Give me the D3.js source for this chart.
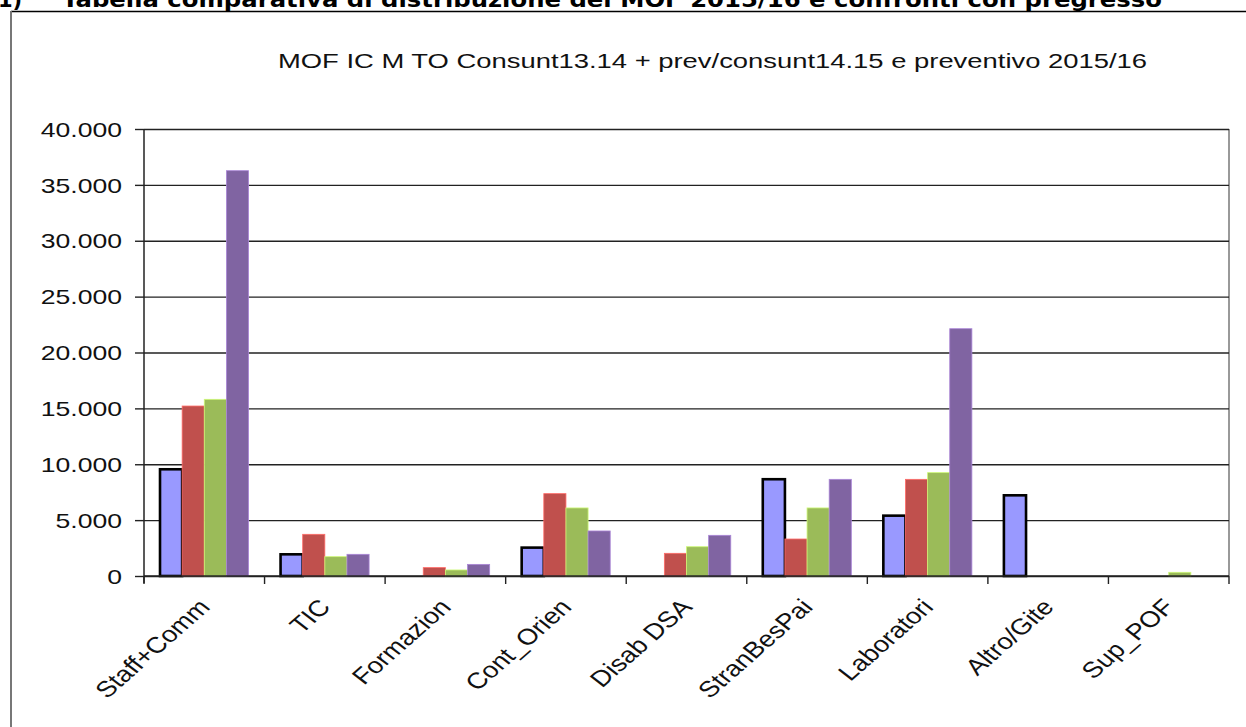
<!DOCTYPE html>
<html>
<head>
<meta charset="utf-8">
<script src="https://cdn.jsdelivr.net/npm/d3@7"></script>
<style>
  body { margin: 0; background: #fff; }
  svg { display: block; font-family: "Liberation Sans", Arial, sans-serif; }
</style>
</head>
<body>
<div id="content"></div>
<script>
// MOF bar chart
var categories = ["Staff+Comm", "TIC", "Formazion", "Cont_Orien", "Disab DSA", "StranBesPai", "Laboratori", "Altro/Gite", "Sup_POF"],
    seriesNames = ["consunt13.14", "prev14.15", "consunt14.15", "prev15.16"],
    consunt1314 = [9550, 1940, 0, 2540, 0, 8660, 5400, 7220, 0],
    prev1415 = [15210, 3730, 750, 7370, 2030, 3310, 8650, 0, 0],
    consunt1415 = [15810, 1730, 540, 6090, 2620, 6090, 9250, 0, 330],
    prev1516 = [36270, 1940, 1040, 4030, 3640, 8650, 22130, 0, 0],
    yTicks = [0, 5000, 10000, 15000, 20000, 25000, 30000, 35000, 40000],
    colors = ["#9999ff", "#c0504d", "#9bbb59", "#8064a2"];

var width = 1246,
    height = 727,
    plotL = 144, plotR = 1229, plotT = 129, plotB = 576,
    sx = 1.33; // the picture is stretched sideways

var series = [consunt1314, prev1415, consunt1415, prev1516];

var itFormat = d3.formatLocale({decimal: ",", thousands: ".", grouping: [3], currency: ["€", ""]}).format(",");

var svg = d3.select('#content').append('svg')
    .attr('width', width)
    .attr('height', height);

// page heading, cut by the top edge
svg.append('text')
    .attr('x', -2).attr('y', 7)
    .attr('font-family', '"DejaVu Sans", sans-serif')
    .attr('font-weight', 'bold')
    .attr('font-size', 21)
    .text('1)');
svg.append('text')
    .attr('x', 62).attr('y', 7)
    .attr('font-family', '"DejaVu Sans", sans-serif')
    .attr('font-weight', 'bold')
    .attr('font-size', 21)
    .attr('textLength', 1100)
    .attr('lengthAdjust', 'spacingAndGlyphs')
    .text('Tabella comparativa di distribuzione del MOF 2015/16 e confronti con pregresso');

// frame
svg.append('line').attr('x1', 11).attr('x2', width).attr('y1', 11.5).attr('y2', 11.5)
    .attr('stroke', '#000').attr('stroke-width', 1.5);
svg.append('line').attr('x1', 11).attr('x2', 11).attr('y1', 11).attr('y2', height)
    .attr('stroke', '#777').attr('stroke-width', 2);

// chart title
svg.append('text')
    .attr('x', 278).attr('y', 67.5)
    .attr('font-size', 20)
    .attr('fill', '#111')
    .attr('textLength', 869)
    .attr('lengthAdjust', 'spacingAndGlyphs')
    .text('MOF IC M TO Consunt13.14 + prev/consunt14.15 e preventivo 2015/16');

var xScale = d3.scaleBand().domain(categories).range([plotL, plotR]).padding(0),
    bw = xScale.bandwidth(),
    x1 = d3.scaleBand().domain(d3.range(4)).range([bw * 16 / 120.5, bw - bw * 16 / 120.5]),
    yScale = d3.scaleLinear().domain([0, 40000]).range([plotB, plotT]);

// plot area right border
svg.append('line').attr('x1', plotR).attr('x2', plotR).attr('y1', plotT).attr('y2', plotB)
    .attr('stroke', '#999').attr('stroke-width', 2);

// gridlines
var grid = svg.append('g')
    .attr('transform', 'translate(' + plotL + ',0)')
    .call(d3.axisRight(yScale).tickValues(yTicks).tickSize(plotR - plotL).tickFormat(''));
grid.select('.domain').remove();
grid.selectAll('line').attr('stroke', '#222').attr('stroke-width', 1.4);

// bars
var catG = svg.selectAll('g.cat')
    .data(categories)
    .enter().append('g')
    .attr('class', 'cat')
    .attr('transform', function(d) { return 'translate(' + xScale(d) + ',0)'; });

catG.selectAll('rect')
    .data(function(d, i) {
        return series.map(function(s, k) { return {k: k, v: s[i]}; })
            .filter(function(e) { return e.v > 0; });
    })
    .enter().append('rect')
    .attr('x', function(d) { return x1(d.k); })
    .attr('width', x1.bandwidth())
    .attr('y', function(d) { return yScale(d.v); })
    .attr('height', function(d) { return yScale(0) - yScale(d.v); })
    .attr('fill', function(d) { return colors[d.k]; })
    .attr('stroke', function(d) { return d.k === 0 ? '#000' : d3.color(colors[d.k]).brighter(0.8); })
    .attr('stroke-width', function(d) { return d.k === 0 ? 2.6 : 0.8; });

// y axis
var yAxisG = svg.append('g')
    .attr('transform', 'translate(' + plotL + ',0)')
    .call(d3.axisLeft(yScale).tickValues(yTicks).tickSize(9).tickPadding(0).tickFormat(itFormat));
yAxisG.select('.domain').attr('d', 'M0,' + plotT + 'V' + (plotB + 7)).attr('stroke', '#222').attr('stroke-width', 1.5);
yAxisG.selectAll('.tick line').attr('stroke', '#222').attr('stroke-width', 1.4);
yAxisG.selectAll('.tick text')
    .attr('x', 0).attr('dy', '0.36em')
    .attr('transform', 'translate(-22,0) scale(' + sx + ',1)')
    .attr('font-size', 20)
    .attr('font-family', '"Liberation Sans", Arial, sans-serif')
    .attr('fill', '#111');

// x axis line and ticks
svg.append('line').attr('x1', plotL).attr('x2', plotR).attr('y1', plotB).attr('y2', plotB)
    .attr('stroke', '#222').attr('stroke-width', 1.5);
svg.selectAll('line.xtick')
    .data(categories.concat(['end']))
    .enter().append('line')
    .attr('class', 'xtick')
    .attr('x1', function(d, i) { return plotL + i * bw; })
    .attr('x2', function(d, i) { return plotL + i * bw; })
    .attr('y1', plotB).attr('y2', plotB + 8)
    .attr('stroke', '#222').attr('stroke-width', 1.4);

// category labels
svg.selectAll('text.cat')
    .data(categories)
    .enter().append('text')
    .attr('class', 'cat')
    .attr('text-anchor', 'end')
    .attr('font-size', 22.5)
    .attr('fill', '#111')
    .attr('transform', function(d) {
        return 'translate(' + (xScale(d) + bw / 2 + 7) + ',608) scale(1.22,1) rotate(-47)';
    })
    .text(function(d) { return d; });
</script>
</body>
</html>
